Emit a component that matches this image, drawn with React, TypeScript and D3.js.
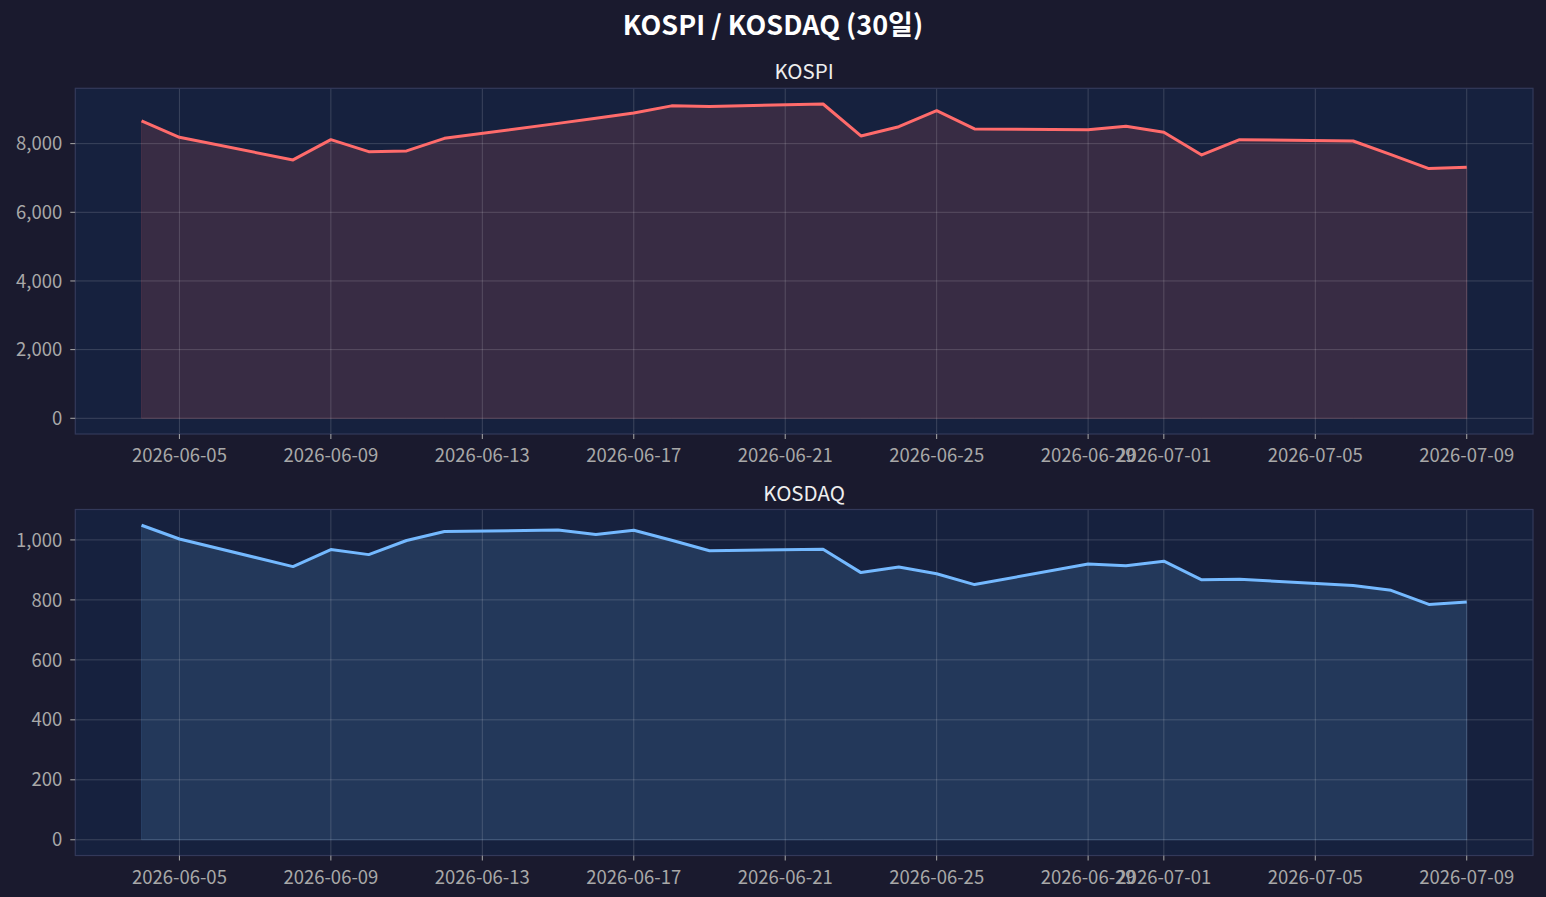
import React, { useEffect } from 'react';
import * as d3 from 'd3';

const dates = [
  '2026-06-04', '2026-06-05', '2026-06-08', '2026-06-09', '2026-06-10', '2026-06-11', '2026-06-12',
  '2026-06-15', '2026-06-16', '2026-06-17', '2026-06-18', '2026-06-19', '2026-06-22', '2026-06-23',
  '2026-06-24', '2026-06-25', '2026-06-26', '2026-06-29', '2026-06-30', '2026-07-01', '2026-07-02',
  '2026-07-03', '2026-07-06', '2026-07-07', '2026-07-08', '2026-07-09',
];

const kospi = [
  8660, 8184, 7525, 8116, 7767, 7787, 8155,
  8590, 8742, 8892, 9100, 9085, 9154, 8223,
  8494, 8960, 8427, 8407, 8504, 8330, 7670,
  8116, 8077, 7680, 7273, 7312,
];

const kosdaq = [
  1049, 1003, 911, 968, 951, 998, 1028,
  1033, 1018, 1032, 999, 964, 969, 891,
  910, 887, 851, 920, 914, 929, 867,
  869, 848, 832, 785, 793,
];

const xTickLabels = [
  '2026-06-05', '2026-06-09', '2026-06-13', '2026-06-17', '2026-06-21',
  '2026-06-25', '2026-06-29', '2026-07-01', '2026-07-05', '2026-07-09',
];

const kospiTicks = [0, 2000, 4000, 6000, 8000];
const kosdaqTicks = [0, 200, 400, 600, 800, 1000];

const W = 1546;
const H = 897;
const FONT = '"Noto Sans CJK KR", "Noto Sans", sans-serif';
const BG = '#1a1a2e';
const AX_BG = '#16213e';

const parse = d3.utcParse('%Y-%m-%d');

interface PanelProps {
  title: string;
  values: number[];
  ticks: number[];
  color: string;
  top: number;
  bottom: number;
}

const left = 75.3;
const right = 1533;

const Panel: React.FC<PanelProps> = ({ title, values, ticks, color, top, bottom }) => {
  const pts = dates.map((d, i) => ({ date: parse(d) as Date, v: values[i] }));
  const t0 = pts[0].date.getTime();
  const t1 = pts[pts.length - 1].date.getTime();
  const pad = (t1 - t0) * 0.05;
  const x = d3.scaleUtc().domain([new Date(t0 - pad), new Date(t1 + pad)]).range([left, right]);

  const maxV = d3.max(values) || 0;
  const y = d3.scaleLinear().domain([-0.05 * maxV, maxV * 1.05]).range([bottom, top]);

  const area = d3.area<{ date: Date; v: number }>()
    .x(d => x(d.date))
    .y0(() => y(0))
    .y1(d => y(d.v));
  const line = d3.line<{ date: Date; v: number }>()
    .x(d => x(d.date))
    .y(d => y(d.v));

  const fmt = d3.format(',');
  const xt = xTickLabels.map(s => parse(s) as Date);

  return (
    <g>
      <rect x={left} y={top} width={right - left} height={bottom - top} fill={AX_BG} />
      <path d={area(pts) || ''} fill={color} fillOpacity={0.15} stroke={color} strokeOpacity={0.15} strokeWidth={1} />
      {/* grid */}
      {xt.map((d, i) => (
        <line key={'gx' + i} x1={x(d)} x2={x(d)} y1={top} y2={bottom} stroke="#ffffff" strokeOpacity={0.16} strokeWidth={1} />
      ))}
      {ticks.map((t, i) => (
        <line key={'gy' + i} x1={left} x2={right} y1={y(t)} y2={y(t)} stroke="#ffffff" strokeOpacity={0.16} strokeWidth={1} />
      ))}
      <path d={line(pts) || ''} fill="none" stroke={color} strokeWidth={3} strokeLinejoin="round" />
      <rect x={left} y={top} width={right - left} height={bottom - top} fill="none" stroke="#33395a" strokeWidth={1.2} />
      {/* y axis */}
      {ticks.map((t, i) => (
        <g key={'ty' + i}>
          <line x1={left - 5} x2={left} y1={y(t)} y2={y(t)} stroke="#aaaaaa" strokeWidth={1} />
          <text x={left - 13} y={y(t)} dy="0.36em" textAnchor="end" fill="#a8a8a8" fontSize={18.5} fontFamily={FONT}>
            {fmt(t)}
          </text>
        </g>
      ))}
      {/* x axis */}
      {xt.map((d, i) => (
        <g key={'tx' + i}>
          <line x1={x(d)} x2={x(d)} y1={bottom} y2={bottom + 5} stroke="#aaaaaa" strokeWidth={1} />
          <text x={x(d)} y={bottom + 28} textAnchor="middle" fill="#a8a8a8" fontSize={18.5} fontFamily={FONT}>
            {xTickLabels[i]}
          </text>
        </g>
      ))}
      <text x={(left + right) / 2} y={top - 9} textAnchor="middle" fill="#eeeeee" fontSize={20.5} fontFamily={FONT}>
        {title}
      </text>
    </g>
  );
};

export default function App() {
  useEffect(() => {
    document.body.style.margin = '0';
    document.body.style.background = BG;
  }, []);

  return (
    <svg width={W} height={H} style={{ display: 'block', background: BG }}>
      <rect width={W} height={H} fill={BG} />
      <text x={W / 2} y={35} textAnchor="middle" fill="#ffffff" fontSize={27} fontWeight="bold" fontFamily={FONT}>
        KOSPI / KOSDAQ (30일)
      </text>
      <Panel title="KOSPI" values={kospi} ticks={kospiTicks} color="#ff6b6b" top={88.3} bottom={434} />
      <Panel title="KOSDAQ" values={kosdaq} ticks={kosdaqTicks} color="#74b9ff" top={509.5} bottom={855.5} />
    </svg>
  );
}
